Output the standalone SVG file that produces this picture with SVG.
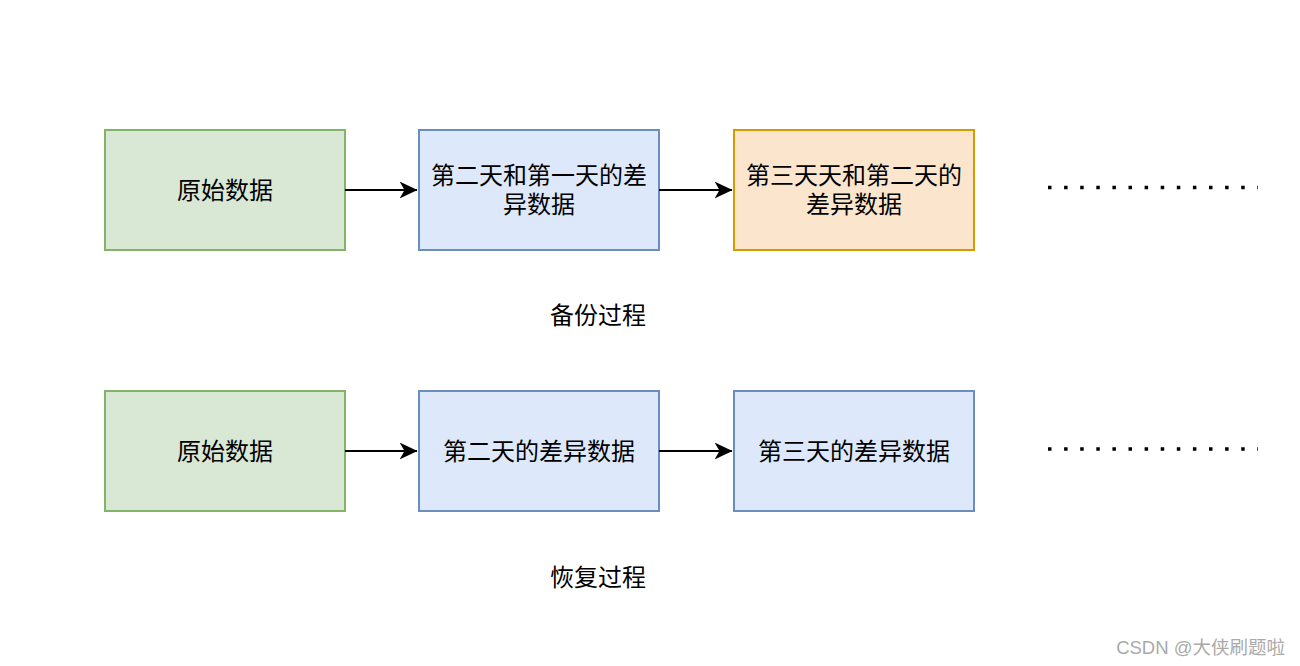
<svg xmlns="http://www.w3.org/2000/svg" width="1300" height="666" viewBox="0 0 1300 666">
<defs>
<style>
.t{font-family:"Liberation Sans","Noto Sans CJK SC",sans-serif;font-size:24px;fill:#000;text-anchor:middle;dominant-baseline:central}
.g{fill:#d9e7d5;stroke:#82b366;stroke-width:2}
.b{fill:#dde8fa;stroke:#6c8ebf;stroke-width:2}
.o{fill:#fbe5cd;stroke:#d79b00;stroke-width:2}
.e{stroke:#000;stroke-width:2;fill:none}
.d{stroke:#000;stroke-width:3.5;stroke-dasharray:3.5 12.6;fill:none}
</style>
<marker id="ah" viewBox="0 0 18 17" refX="17.5" refY="8.5" markerWidth="18" markerHeight="17" markerUnits="userSpaceOnUse" orient="auto">
<path d="M0,0 L18,8.5 L0,17 L5,8.5 Z" fill="#000"/>
</marker>
</defs>
<rect width="1300" height="666" fill="#fff"/>
<g id="n1"><rect class="g" x="105" y="130" width="240" height="120"/><text class="t" x="225" y="190">原始数据</text></g>
<g id="n2"><rect class="b" x="419" y="130" width="240" height="120"/><text class="t" x="539" y="175">第二天和第一天的差</text><text class="t" x="539" y="204">异数据</text></g>
<g id="n3"><rect class="o" x="734" y="130" width="240" height="120"/><text class="t" x="854" y="175">第三天天和第二天的</text><text class="t" x="854" y="204">差异数据</text></g>
<g id="l1"><text class="t" x="598" y="315">备份过程</text></g>
<g id="n4"><rect class="g" x="105" y="391" width="240" height="120"/><text class="t" x="225" y="451">原始数据</text></g>
<g id="n5"><rect class="b" x="419" y="391" width="240" height="120"/><text class="t" x="539" y="451">第二天的差异数据</text></g>
<g id="n6"><rect class="b" x="734" y="391" width="240" height="120"/><text class="t" x="854" y="451">第三天的差异数据</text></g>
<g id="l2"><text class="t" x="598" y="577">恢复过程</text></g>
<g id="edges">
<path class="e" d="M345,190 H417" marker-end="url(#ah)"/>
<path class="e" d="M659,190 H732" marker-end="url(#ah)"/>
<path class="e" d="M345,451 H417" marker-end="url(#ah)"/>
<path class="e" d="M659,451 H732" marker-end="url(#ah)"/>
<path class="d" d="M1048,187.5 H1258"/>
<path class="d" d="M1048,449 H1258"/>
</g>
<text x="1285" y="647" style="font-family:'Liberation Sans','Noto Sans CJK SC',sans-serif;font-size:18.5px;fill:#aaa;text-anchor:end;dominant-baseline:central">CSDN @大侠刷题啦</text>
</svg>
